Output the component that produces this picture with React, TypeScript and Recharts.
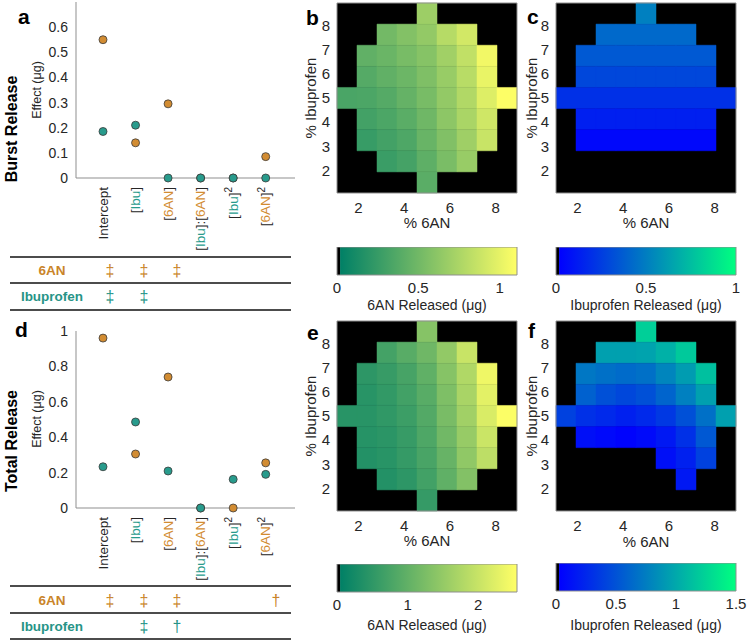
import React from 'react';
import { ScatterChart, Scatter, XAxis, YAxis, ReferenceArea } from 'recharts';

const FONT = '"Liberation Sans", Arial, Helvetica, sans-serif';
const ORANGE = '#d28c32';
const TEAL = '#289b8c';
const ORANGE_TXT = '#c98429';
const TEAL_TXT = '#279487';
const TXT = '#262626';
const AXIS = '#8f8f8f';

// regression terms (panels a, d)
const terms = ['Intercept', '[Ibu]', '[6AN]', '[Ibu]:[6AN]', '[Ibu]^2', '[6AN]^2'];
const termPos = [1, 2, 3, 4, 5, 6];

const burst6AN = [0.55, 0.14, 0.295, 0, 0, 0.085];
const burstIbu = [0.185, 0.21, 0, 0, 0, 0];
const total6AN = [0.96, 0.305, 0.74, 0, 0, 0.255];
const totalIbu = [0.233, 0.486, 0.209, 0, 0.162, 0.19];

const burstTicks = [0, 0.1, 0.2, 0.3, 0.4, 0.5, 0.6];
const totalTicks = [0, 0.2, 0.4, 0.6, 0.8, 1];

// significance table
const burstSig6AN = ['‡', '‡', '‡', '', '', ''];
const burstSigIbu = ['‡', '‡', '', '', '', ''];
const totalSig6AN = ['‡', '‡', '‡', '', '', '†'];
const totalSigIbu = ['', '‡', '†', '', '', ''];

// heatmaps (rows: % Ibuprofen high -> low, cols: % 6AN low -> high)
const levels = [1.5, 2.375, 3.25, 4.125, 5, 5.875, 6.75, 7.625, 8.5];
const heatTicksX = [2, 4, 6, 8];
const heatTicksY = [2, 3, 4, 5, 6, 7, 8];
const _ = null;

const burstGrid6AN = [
  [_, _, _, _, 0.68, _, _, _, _],
  [_, _, 0.5, 0.57, 0.64, 0.79, 0.91, _, _],
  [_, 0.42, 0.46, 0.52, 0.58, 0.7, 0.84, 1.05, _],
  [_, 0.37, 0.42, 0.47, 0.55, 0.66, 0.8, 1.01, _],
  [0.32, 0.33, 0.37, 0.44, 0.52, 0.64, 0.77, 0.96, 1.1],
  [_, 0.29, 0.33, 0.39, 0.48, 0.61, 0.74, 0.9, _],
  [_, 0.24, 0.29, 0.34, 0.45, 0.56, 0.69, 0.87, _],
  [_, _, 0.25, 0.3, 0.41, 0.53, 0.66, _, _],
  [_, _, _, _, 0.39, _, _, _, _],
];

const burstGridIbu = [
  [_, _, _, _, 0.5, _, _, _, _],
  [_, _, 0.41, 0.41, 0.41, 0.41, 0.41, _, _],
  [_, 0.35, 0.35, 0.35, 0.35, 0.35, 0.35, 0.35, _],
  [_, 0.28, 0.28, 0.28, 0.28, 0.28, 0.28, 0.28, _],
  [0.19, 0.19, 0.19, 0.19, 0.19, 0.19, 0.19, 0.19, 0.19],
  [_, 0.12, 0.12, 0.12, 0.12, 0.12, 0.12, 0.12, _],
  [_, 0.03, 0.03, 0.03, 0.03, 0.03, 0.03, 0.03, _],
  [_, _, _, _, _, _, _, _, _],
  [_, _, _, _, _, _, _, _, _],
];

const totalGrid6AN = [
  [_, _, _, _, 1.34, _, _, _, _],
  [_, _, 0.68, 0.88, 1.11, 1.46, 2.0, _, _],
  [_, 0.45, 0.55, 0.71, 0.96, 1.34, 1.76, 2.39, _],
  [_, 0.4, 0.5, 0.66, 0.88, 1.26, 1.69, 2.27, _],
  [0.4, 0.4, 0.48, 0.6, 0.83, 1.21, 1.61, 2.17, 2.52],
  [_, 0.38, 0.43, 0.55, 0.78, 1.13, 1.51, 2.02, _],
  [_, 0.35, 0.4, 0.53, 0.73, 1.03, 1.44, 1.89, _],
  [_, _, 0.35, 0.45, 0.66, 0.96, 1.31, _, _],
  [_, _, _, _, 0.53, _, _, _, _],
];

const totalGridIbu = [
  [_, _, _, _, 1.22, _, _, _, _],
  [_, _, 0.94, 0.94, 0.96, 1.04, 1.18, _, _],
  [_, 0.7, 0.66, 0.63, 0.66, 0.78, 0.92, 1.13, _],
  [_, 0.57, 0.47, 0.42, 0.47, 0.59, 0.75, 0.94, _],
  [0.38, 0.28, 0.24, 0.19, 0.24, 0.33, 0.47, 0.66, 0.94],
  [_, 0.09, 0.05, 0.02, 0.06, 0.14, 0.28, 0.52, _],
  [_, _, _, _, _, 0.09, 0.19, 0.38, _],
  [_, _, _, _, _, _, 0.14, _, _],
  [_, _, _, _, _, _, _, _, _],
];

// matlab-ish colormaps
const clamp = (t: number) => Math.max(0, Math.min(1, t));
const summer = (t: number) => {
  const k = clamp(t);
  return `rgb(${Math.round(255 * k)},${Math.round(128 + 127 * k)},102)`;
};
const winter = (t: number) => {
  const k = clamp(t);
  return `rgb(0,${Math.round(255 * k)},${Math.round(255 - 127 * k)})`;
};

type Part = { t: string; c: string; sup?: boolean };
const termLabels: Record<string, Part[]> = {
  'Intercept': [{ t: 'Intercept', c: TXT }],
  '[Ibu]': [{ t: '[', c: TXT }, { t: 'Ibu', c: TEAL }, { t: ']', c: TXT }],
  '[6AN]': [{ t: '[', c: TXT }, { t: '6AN', c: ORANGE }, { t: ']', c: TXT }],
  '[Ibu]:[6AN]': [
    { t: '[', c: TXT }, { t: 'Ibu', c: TEAL }, { t: ']:[', c: TXT },
    { t: '6AN', c: ORANGE }, { t: ']', c: TXT },
  ],
  '[Ibu]^2': [{ t: '[', c: TXT }, { t: 'Ibu', c: TEAL }, { t: ']', c: TXT }, { t: '2', c: TXT, sup: true }],
  '[6AN]^2': [{ t: '[', c: TXT }, { t: '6AN', c: ORANGE }, { t: ']', c: TXT }, { t: '2', c: TXT, sup: true }],
};

const TermTick = (props: any) => {
  const { x, y, payload } = props;
  const parts = termLabels[terms[payload.value - 1]];
  if (!parts) return null;
  return (
    <text transform={`translate(${x},${y}) rotate(-90)`} textAnchor="end" dy="0.35em" fontSize={13.5} fontFamily={FONT}>
      {parts.map((p, i) =>
        p.sup ? (
          <tspan key={i} fill={p.c} dy="-0.55em" fontSize={10}>{p.t}</tspan>
        ) : (
          <tspan key={i} fill={p.c}>{p.t}</tspan>
        )
      )}
    </text>
  );
};

const dot = (fill: string) => (p: any) => (
  <circle cx={p.cx} cy={p.cy} r={4} fill={fill} stroke="#3a3a3a" strokeWidth={0.8} />
);

function EffectPanel(props: {
  top: number; height: number; plotTop: number; plotBottom: number;
  yMax: number; yTicks: number[]; v6AN: number[]; vIbu: number[];
}) {
  const { top, height, plotTop, plotBottom, yMax, yTicks, v6AN, vIbu } = props;
  const data6 = termPos.map((x, i) => ({ x, y: v6AN[i] }));
  const dataI = termPos.map((x, i) => ({ x, y: vIbu[i] }));
  return (
    <div style={{ position: 'absolute', left: 0, top }}>
      <ScatterChart width={300} height={height} margin={{ top: plotTop - top, right: 5, bottom: 0, left: 0 }}>
        <XAxis
          type="number" dataKey="x" domain={[0.17, 6.9]} ticks={termPos} interval={0}
          height={top + height - plotBottom} tickSize={0} tickMargin={9} tickLine={false}
          axisLine={{ stroke: AXIS }} tick={(p: any) => <TermTick {...p} />}
        />
        <YAxis
          type="number" dataKey="y" domain={[0, yMax]} ticks={yTicks} interval={0} width={76}
          tickSize={0} tickMargin={8} tickLine={false} axisLine={{ stroke: AXIS }}
          tick={{ fill: TXT, fontSize: 14, fontFamily: FONT }}
        />
        <Scatter data={data6} fill={ORANGE} shape={dot(ORANGE)} isAnimationActive={false} />
        <Scatter data={dataI} fill={TEAL} shape={dot(TEAL)} isAnimationActive={false} />
      </ScatterChart>
    </div>
  );
}

const H = 0.4375; // half cell
const LO = 1.0625;
const HI = 8.9375;

function HeatPanel(props: { left: number; top: number; grid: (number | null)[][]; max: number; cmap: (t: number) => string }) {
  const { left, top, grid, max, cmap } = props;
  const cells: { x: number; y: number; v: number }[] = [];
  grid.forEach((row, r) =>
    row.forEach((v, c) => {
      if (v !== null) cells.push({ x: levels[c], y: levels[levels.length - 1 - r], v });
    })
  );
  return (
    <div style={{ position: 'absolute', left: left - 47, top: top - 3 }}>
      <ScatterChart width={230} height={230} margin={{ top: 3, right: 3, left: 0, bottom: 0 }}>
        <XAxis
          type="number" dataKey="x" domain={[LO, HI]} ticks={heatTicksX} interval={0} height={37}
          tickSize={0} tickMargin={9} tickLine={false} axisLine={false}
          tick={{ fill: TXT, fontSize: 15, fontFamily: FONT }}
        />
        <YAxis
          type="number" dataKey="y" domain={[LO, HI]} ticks={heatTicksY} interval={0} width={47}
          tickSize={0} tickMargin={7} tickLine={false} axisLine={false}
          tick={{ fill: TXT, fontSize: 15, fontFamily: FONT }}
        />
        <ReferenceArea x1={LO} x2={HI} y1={LO} y2={HI} fill="#000" fillOpacity={1} stroke="none" ifOverflow="visible" />
        {cells.map((c, i) => {
          const col = cmap(c.v / max);
          return (
            <ReferenceArea
              key={i} x1={c.x - H} x2={c.x + H} y1={c.y - H} y2={c.y + H}
              fill={col} fillOpacity={1} stroke={col} strokeWidth={0.5} ifOverflow="visible"
            />
          );
        })}
        <ReferenceArea x1={LO} x2={HI} y1={LO} y2={HI} fill="none" fillOpacity={0} stroke={AXIS} strokeWidth={1} ifOverflow="visible" />
        <Scatter data={cells} shape={() => <g />} isAnimationActive={false} />
      </ScatterChart>
    </div>
  );
}

function ColorBar(props: { left: number; top: number; max: number; ticks: number[]; grad: string }) {
  const { left, top, max, ticks, grad } = props;
  const pts = [{ x: 0, y: 0 }, { x: max, y: 1 }];
  const stripe = max * 0.017;
  return (
    <div style={{ position: 'absolute', left: left - 20, top }}>
      <ScatterChart width={220} height={50} margin={{ top: 0, right: 20, left: 20, bottom: 0 }}>
        <XAxis
          type="number" dataKey="x" domain={[0, max]} ticks={ticks} interval={0} height={22}
          tickSize={0} tickMargin={7} tickLine={false} axisLine={false}
          tick={{ fill: TXT, fontSize: 15, fontFamily: FONT }}
        />
        <YAxis type="number" dataKey="y" domain={[0, 1]} hide />
        <ReferenceArea x1={stripe} x2={max} y1={0} y2={1} fill={`url(#${grad})`} fillOpacity={1} stroke="none" ifOverflow="visible" />
        <ReferenceArea x1={0} x2={stripe} y1={0} y2={1} fill="#000" fillOpacity={1} stroke="none" ifOverflow="visible" />
        <ReferenceArea x1={0} x2={max} y1={0} y2={1} fill="none" fillOpacity={0} stroke={AXIS} ifOverflow="visible" />
        <Scatter data={pts} shape={() => <g />} isAnimationActive={false} />
      </ScatterChart>
    </div>
  );
}

const symCols = [110, 144, 177, 210, 243, 276];

function SigTable({ lines, rows }: { lines: number[]; rows: { label: string; color: string; y: number; syms: string[] }[] }) {
  return (
    <g>
      {lines.map((y, i) => (
        <line key={i} x1={10} x2={291} y1={y} y2={y} stroke="#111" strokeWidth={1.5} />
      ))}
      {rows.map((r, i) => (
        <g key={i}>
          <text x={52} y={r.y} textAnchor="middle" dy="0.35em" fontSize={13.5} fontWeight="bold" fill={r.color}>{r.label}</text>
          {r.syms.map((s, j) =>
            s ? (
              <text key={j} x={symCols[j]} y={r.y} textAnchor="middle" dy="0.35em" fontSize={16} fill={r.color}>{s}</text>
            ) : null
          )}
        </g>
      ))}
    </g>
  );
}

const Rot = ({ x, y, children, size, bold }: { x: number; y: number; children: React.ReactNode; size: number; bold?: boolean }) => (
  <text transform={`translate(${x},${y}) rotate(-90)`} textAnchor="middle" dy="0.35em" fontSize={size} fontWeight={bold ? 'bold' : 'normal'} fill={bold ? '#000' : TXT}>
    {children}
  </text>
);

const Mid = ({ x, y, children, size }: { x: number; y: number; children: React.ReactNode; size: number }) => (
  <text x={x} y={y} textAnchor="middle" dy="0.35em" fontSize={size} fill={TXT}>{children}</text>
);

export default function App() {
  return (
    <div style={{ position: 'relative', width: 750, height: 644, background: '#fff', overflow: 'hidden', fontFamily: FONT }}>
      <style>{'body{margin:0}'}</style>
      <svg width={0} height={0} style={{ position: 'absolute' }}>
        <defs>
          <linearGradient id="gSummer" x1="0" y1="0" x2="1" y2="0">
            <stop offset="0" stopColor={summer(0)} />
            <stop offset="1" stopColor={summer(1)} />
          </linearGradient>
          <linearGradient id="gWinter" x1="0" y1="0" x2="1" y2="0">
            <stop offset="0" stopColor={winter(0)} />
            <stop offset="1" stopColor={winter(1)} />
          </linearGradient>
        </defs>
      </svg>

      <EffectPanel top={0} height={260} plotTop={2} plotBottom={178} yMax={0.7} yTicks={burstTicks} v6AN={burst6AN} vIbu={burstIbu} />
      <EffectPanel top={320} height={270} plotTop={331} plotBottom={508} yMax={1} yTicks={totalTicks} v6AN={total6AN} vIbu={totalIbu} />

      <HeatPanel left={337} top={3} grid={burstGrid6AN} max={1.107} cmap={summer} />
      <HeatPanel left={556} top={3} grid={burstGridIbu} max={1} cmap={winter} />
      <HeatPanel left={337} top={321} grid={totalGrid6AN} max={2.55} cmap={summer} />
      <HeatPanel left={556} top={321} grid={totalGridIbu} max={1.5} cmap={winter} />

      <ColorBar left={337} top={247} max={1.107} ticks={[0, 0.5, 1]} grad="gSummer" />
      <ColorBar left={556} top={247} max={1} ticks={[0, 0.5, 1]} grad="gWinter" />
      <ColorBar left={337} top={564} max={2.55} ticks={[0, 1, 2]} grad="gSummer" />
      <ColorBar left={556} top={563} max={1.5} ticks={[0, 0.5, 1, 1.5]} grad="gWinter" />

      <svg width={750} height={644} style={{ position: 'absolute', left: 0, top: 0, pointerEvents: 'none' }} fontFamily={FONT}>
        {/* panel letters */}
        <text x={18} y={24} fontSize={21} fontWeight="bold">a</text>
        <text x={306} y={25} fontSize={21} fontWeight="bold">b</text>
        <text x={527} y={24} fontSize={21} fontWeight="bold">c</text>
        <text x={15} y={337} fontSize={21} fontWeight="bold">d</text>
        <text x={307} y={340} fontSize={21} fontWeight="bold">e</text>
        <text x={528} y={338} fontSize={21} fontWeight="bold">f</text>

        <Rot x={11} y={129} size={16} bold>Burst Release</Rot>
        <Rot x={11} y={441} size={16} bold>Total Release</Rot>
        <Rot x={37} y={90} size={12.5}>Effect (μg)</Rot>
        <Rot x={37} y={419} size={12.5}>Effect (μg)</Rot>

        <Rot x={311} y={98} size={15}>% Ibuprofen</Rot>
        <Rot x={532} y={98} size={15}>% Ibuprofen</Rot>
        <Rot x={311} y={416} size={15}>% Ibuprofen</Rot>
        <Rot x={532} y={416} size={15}>% Ibuprofen</Rot>

        <Mid x={427} y={223} size={15}>% 6AN</Mid>
        <Mid x={646} y={223} size={15}>% 6AN</Mid>
        <Mid x={427} y={541} size={15}>% 6AN</Mid>
        <Mid x={646} y={542} size={15}>% 6AN</Mid>

        <Mid x={427} y={305} size={14}>6AN Released (μg)</Mid>
        <Mid x={646} y={305} size={14}>Ibuprofen Released (μg)</Mid>
        <Mid x={427} y={625} size={14}>6AN Released (μg)</Mid>
        <Mid x={646} y={625} size={14}>Ibuprofen Released (μg)</Mid>

        <SigTable
          lines={[257, 283, 310]}
          rows={[
            { label: '6AN', color: ORANGE_TXT, y: 270, syms: burstSig6AN },
            { label: 'Ibuprofen', color: TEAL_TXT, y: 296.5, syms: burstSigIbu },
          ]}
        />
        <SigTable
          lines={[586, 613, 639]}
          rows={[
            { label: '6AN', color: ORANGE_TXT, y: 600, syms: totalSig6AN },
            { label: 'Ibuprofen', color: TEAL_TXT, y: 626, syms: totalSigIbu },
          ]}
        />
      </svg>
    </div>
  );
}
